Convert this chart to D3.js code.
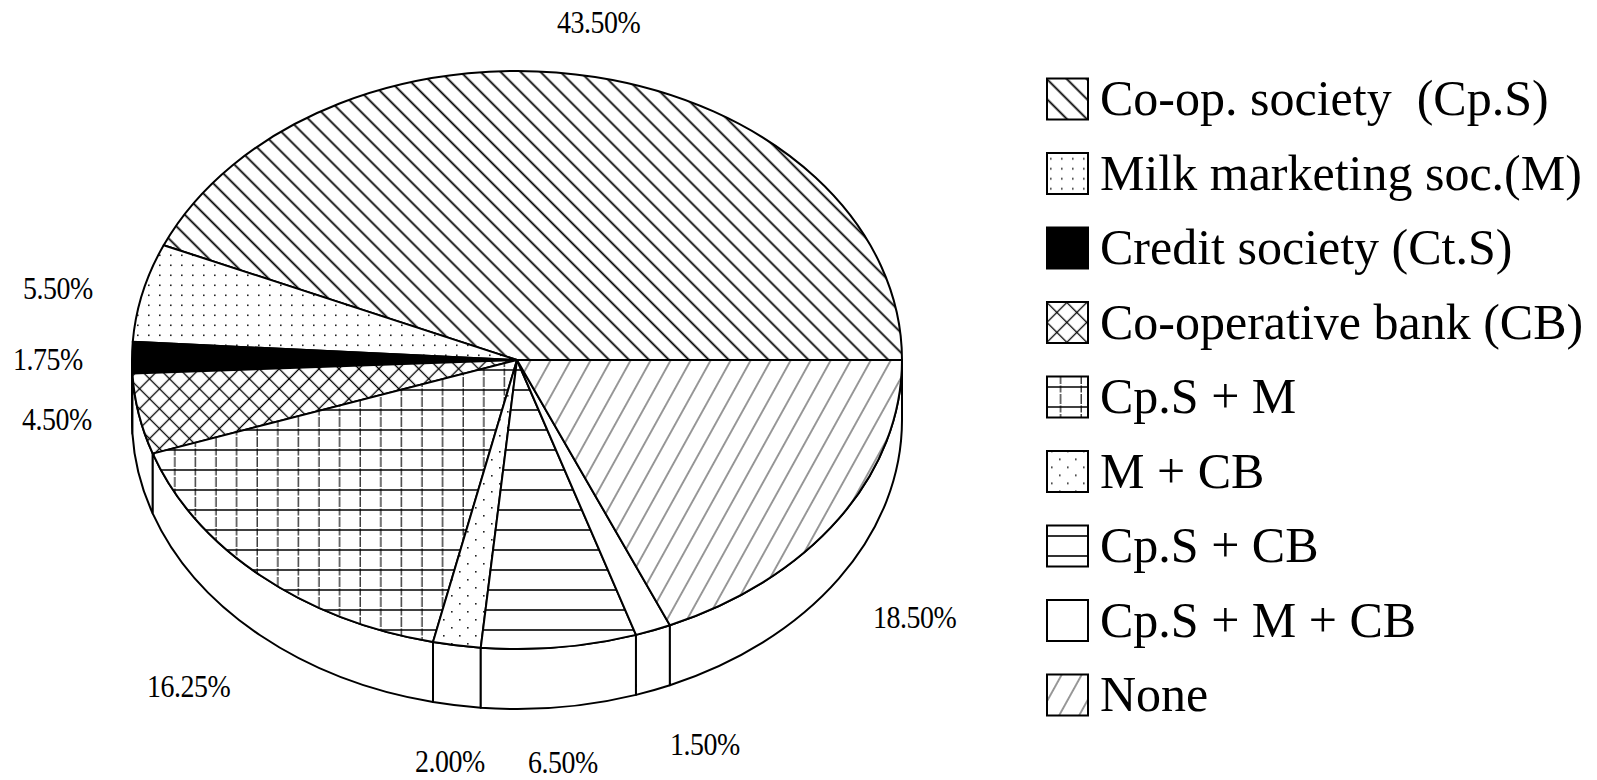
<!DOCTYPE html>
<html>
<head>
<meta charset="utf-8">
<script src="https://cdn.jsdelivr.net/npm/d3@7"></script>
<style>
  html, body { margin: 0; padding: 0; background: #fff; }
  svg { display: block; }
  text { font-family: "Liberation Serif", "Times New Roman", serif; fill: #000; white-space: pre; }
</style>
</head>
<body>
<svg id="chart" width="1597" height="780"></svg>
<script>
// Source of membership: share of households (%)
const categories = [
  "Co-op. society  (Cp.S)",
  "Milk marketing soc.(M)",
  "Credit society (Ct.S)",
  "Co-operative bank (CB)",
  "Cp.S + M",
  "M + CB",
  "Cp.S + CB",
  "Cp.S + M + CB",
  "None"
];
const shares = [43.5, 5.5, 1.75, 4.5, 16.25, 2.0, 6.5, 1.5, 18.5];
const fillKeys = ["hatchBack", "dotsGrid", "solid", "cross", "grid", "dotsStagger", "horiz", "blank", "hatchFwd"];

// ---- layout ----
const cx = 517, cy = 360, rx = 385, ry = 289, depth = 60;
const labelAnchors = [[557, 33], [23, 299], [13, 370], [22, 430], [147, 697], [415, 772], [528, 773], [670, 755], [873, 628]];
const legend = { x: 1047, y0: 99, step: 74.5, box: 41, textX: 1100 };

const svg = d3.select("#chart");
const defs = svg.append("defs");

// hatch patterns
function linePattern(id, spacing, angle, width, color, dash) {
  const p = defs.append("pattern").attr("id", id)
    .attr("patternUnits", "userSpaceOnUse")
    .attr("width", spacing).attr("height", 40)
    .attr("patternTransform", `rotate(${angle})`);
  p.append("rect").attr("width", spacing).attr("height", 40).attr("fill", "#fff");
  p.append("line").attr("x1", spacing / 2).attr("y1", -2).attr("x2", spacing / 2).attr("y2", 42)
    .attr("stroke", color).attr("stroke-width", width).attr("stroke-dasharray", dash || null);
}
linePattern("hatchBack", 14.1, -45, 1.8, "#000");
linePattern("hatchFwd", 17.5, 29, 1.0, "#333");

const cross = defs.append("pattern").attr("id", "cross")
  .attr("patternUnits", "userSpaceOnUse").attr("width", 14.1).attr("height", 14.1)
  .attr("patternTransform", "rotate(45)");
cross.append("rect").attr("width", 14.1).attr("height", 14.1).attr("fill", "#fff");
cross.append("line").attr("x1", 7).attr("y1", -1).attr("x2", 7).attr("y2", 15.1).attr("stroke", "#000").attr("stroke-width", 1.3);
cross.append("line").attr("x1", -1).attr("y1", 7).attr("x2", 15.1).attr("y2", 7).attr("stroke", "#000").attr("stroke-width", 1.3);

const grid = defs.append("pattern").attr("id", "grid")
  .attr("patternUnits", "userSpaceOnUse").attr("width", 20.6).attr("height", 20);
grid.append("rect").attr("width", 20.6).attr("height", 20).attr("fill", "#fff");
grid.append("line").attr("x1", 10).attr("y1", 0).attr("x2", 10).attr("y2", 20)
  .attr("stroke", "#111").attr("stroke-width", 1.2).attr("stroke-dasharray", "7,1.5");
grid.append("line").attr("x1", 0).attr("y1", 10).attr("x2", 20.6).attr("y2", 10)
  .attr("stroke", "#000").attr("stroke-width", 1.5);

const horiz = defs.append("pattern").attr("id", "horiz")
  .attr("patternUnits", "userSpaceOnUse").attr("width", 20).attr("height", 20);
horiz.append("rect").attr("width", 20).attr("height", 20).attr("fill", "#fff");
horiz.append("line").attr("x1", -1).attr("y1", 10).attr("x2", 21).attr("y2", 10)
  .attr("stroke", "#000").attr("stroke-width", 1.6);

const dotsGrid = defs.append("pattern").attr("id", "dotsGrid")
  .attr("patternUnits", "userSpaceOnUse").attr("width", 11).attr("height", 10);
dotsGrid.append("rect").attr("width", 11).attr("height", 10).attr("fill", "#fff");
dotsGrid.append("rect").attr("x", 5).attr("y", 4.5).attr("width", 1.6).attr("height", 1.6).attr("fill", "#222");

const dotsStagger = defs.append("pattern").attr("id", "dotsStagger")
  .attr("patternUnits", "userSpaceOnUse").attr("width", 16).attr("height", 16);
dotsStagger.append("rect").attr("width", 16).attr("height", 16).attr("fill", "#fff");
dotsStagger.append("rect").attr("x", 3).attr("y", 3).attr("width", 1.6).attr("height", 1.6).attr("fill", "#222");
dotsStagger.append("rect").attr("x", 11).attr("y", 11).attr("width", 1.6).attr("height", 1.6).attr("fill", "#222");

function fillOf(key) {
  if (key === "solid") return "#000";
  if (key === "blank") return "#fff";
  return `url(#${key})`;
}

// ---- slice angles (counter-clockwise from 3 o'clock) ----
const pie = d3.pie().sort(null).value(d => d).startAngle(0).endAngle(2 * Math.PI);
const arcs = pie(shares);

const pt = (t, dy) => [cx + rx * Math.cos(t), cy - ry * Math.sin(t) + dy];
const fmt = p => `${p[0].toFixed(2)},${p[1].toFixed(2)}`;

function topPath(t0, t1) {
  const large = (t1 - t0) > Math.PI ? 1 : 0;
  return `M${cx},${cy}L${fmt(pt(t0, 0))}A${rx},${ry} 0 ${large} 0 ${fmt(pt(t1, 0))}Z`;
}
function wallPath(t0, t1) {
  return `M${fmt(pt(t0, 0))}A${rx},${ry} 0 0 0 ${fmt(pt(t1, 0))}` +
         `L${fmt(pt(t1, depth))}A${rx},${ry} 0 0 1 ${fmt(pt(t0, depth))}Z`;
}

// side wall (front half only)
const walls = arcs.map(a => ({ t0: Math.max(a.startAngle, Math.PI), t1: Math.min(a.endAngle, 2 * Math.PI) }))
  .filter(w => w.t1 - w.t0 > 1e-6);
svg.append("g").selectAll("path").data(walls).join("path")
  .attr("d", w => wallPath(w.t0, w.t1))
  .attr("fill", "#fff").attr("stroke", "#000").attr("stroke-width", 2).attr("stroke-linejoin", "round");

// top faces
svg.append("g").selectAll("path").data(arcs).join("path")
  .attr("d", a => topPath(a.startAngle, a.endAngle))
  .attr("fill", (a, i) => fillOf(fillKeys[i]))
  .attr("stroke", "#000").attr("stroke-width", 2).attr("stroke-linejoin", "round");

// percentage labels (narrow, tall figures)
svg.append("g").selectAll("text").data(arcs).join("text")
  .attr("transform", (a, i) => `translate(${labelAnchors[i][0]},${labelAnchors[i][1]}) scale(0.9,1)`)
  .attr("font-size", 31)
  .attr("letter-spacing", -0.5)
  .text(a => d3.format(".2f")(a.data) + "%");

// legend
const lg = svg.append("g").selectAll("g").data(categories).join("g")
  .attr("transform", (d, i) => `translate(0,${legend.y0 + i * legend.step})`);
lg.append("rect")
  .attr("x", legend.x).attr("y", -legend.box / 2)
  .attr("width", legend.box).attr("height", legend.box)
  .attr("fill", (d, i) => fillOf(fillKeys[i]))
  .attr("stroke", "#000").attr("stroke-width", 2);
lg.append("text")
  .attr("x", legend.textX).attr("y", 16)
  .attr("font-size", 50)
  .text(d => d);
</script>
</body>
</html>
